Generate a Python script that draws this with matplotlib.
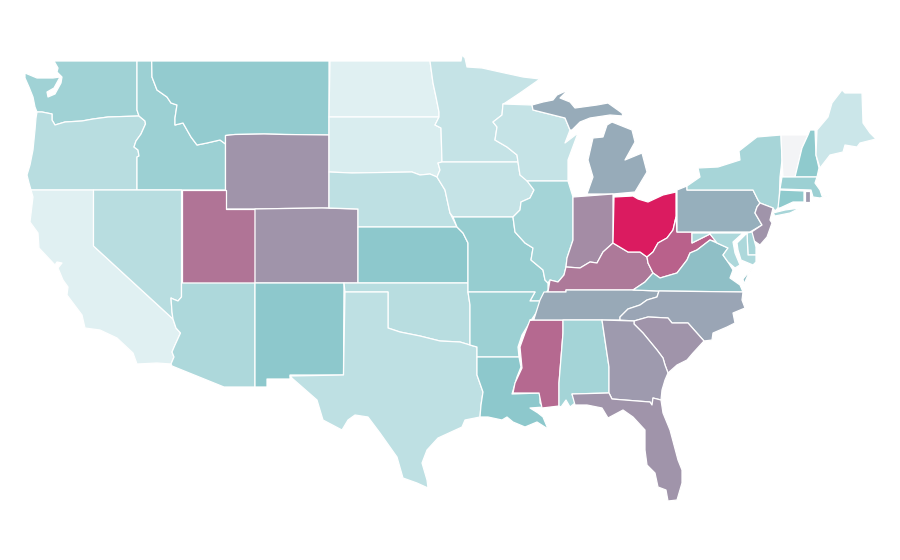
import matplotlib
matplotlib.use("Agg")
import matplotlib.pyplot as plt
from matplotlib.colors import LinearSegmentedColormap
from matplotlib.patches import Polygon

# no geo data offline, so state outlines are traced by hand in image pixels
states = ["WA", "OR", "CA", "ID", "NV", "MT", "WY", "UT", "AZ", "CO", "NM", "ND", "SD", "NE", "KS", "OK", "TX",
          "MN", "IA", "MO", "AR", "LA", "WI", "IL", "MS", "MI", "IN", "KY", "TN", "AL", "OH", "WV", "VA", "NC",
          "SC", "GA", "FL", "PA", "NY", "NJ", "DE", "MD", "VT", "NH", "ME", "MA", "CT", "RI"]
values = [0.24, 0.17, 0.05, 0.25, 0.17, 0.28, 0.55, 0.67, 0.20, 0.55, 0.30, 0.05, 0.07, 0.15, 0.30, 0.17, 0.15,
          0.13, 0.13, 0.27, 0.25, 0.30, 0.13, 0.23, 0.71, 0.44, 0.58, 0.65, 0.45, 0.23, 1.00, 0.74, 0.34, 0.47,
          0.55, 0.52, 0.55, 0.42, 0.22, 0.55, 0.22, 0.20, 0.00, 0.29, 0.11, 0.25, 0.29, 0.52]

color_stops = [0.0, 0.05, 0.3, 0.55, 1.0]
color_list = ["#f3f4f6", "#dff0f2", "#8cc8cc", "#a094aa", "#db1b60"]

outlines = {
    "WA": [[(54, 61), (137, 61), (137, 110), (139, 116), (108, 117), (93, 119), (82, 121), (65, 122), (55, 125),
            (52, 120), (52, 114), (42, 112), (37, 112), (35, 107), (33, 97), (29, 87), (25, 78), (25, 73), (37, 78),
            (53, 78), (60, 77), (54, 88), (47, 92), (48, 97), (55, 94), (61, 83), (62, 77), (57, 72), (58, 68)]],
    "OR": [[(37, 112), (42, 112), (52, 114), (52, 120), (55, 125), (65, 122), (82, 121), (93, 119), (108, 117),
            (139, 116), (145, 121), (145.5, 124), (141, 134), (136, 141), (134, 147), (138, 150), (139, 156),
            (137, 157), (137, 190), (31, 190), (29, 183), (27, 175), (30, 165), (33, 150), (35, 130), (36, 118)]],
    "CA": [[(31, 190), (93.5, 190), (93.5, 246), (173, 319), (176, 328), (180.5, 333), (175, 345), (172, 352),
            (174, 357), (171, 364), (157, 363), (137, 364), (133, 353), (117, 338), (100, 330), (85, 328), (82, 315),
            (67, 295), (68, 287), (63, 280), (58, 268), (62, 263), (57, 262), (55, 265), (39, 248), (38, 233),
            (30, 222), (33, 197)]],
    "ID": [[(137, 61), (151.7, 61), (152, 77), (157, 90), (167, 97), (171, 103), (177, 105), (175, 118), (175, 125),
            (183, 123), (191, 137), (197, 145), (207, 143), (220, 140), (225.5, 144), (225.5, 190), (137, 190),
            (137, 157), (139, 156), (138, 150), (134, 147), (136, 141), (141, 134), (145.5, 124), (145, 121),
            (139, 116), (137, 110)]],
    "NV": [[(93.5, 190), (181.5, 190), (181.5, 297), (178, 301), (173, 299), (171, 298), (172, 312), (173, 319),
            (93.5, 246)]],
    "MT": [[(151.7, 61), (329, 61), (329, 135), (285, 134.5), (264, 134), (235, 134.5), (225.5, 135.5), (225.5, 144),
            (220, 140), (207, 143), (197, 145), (191, 137), (183, 123), (175, 125), (175, 118), (177, 105), (171, 103),
            (167, 97), (157, 90), (152, 77)]],
    "WY": [[(225.5, 135.5), (235, 134.5), (264, 134), (285, 134.5), (329, 135), (329, 208), (285, 208.5),
            (255, 209), (225.5, 209)]],
    "UT": [[(181.5, 190), (225.5, 190), (225.5, 209), (255, 209), (255, 283), (181.5, 283)]],
    "AZ": [[(181.5, 283), (255, 283), (255, 387), (224, 387), (172, 366), (171, 364), (174, 357), (172, 352),
            (175, 345), (180.5, 333), (176, 328), (173, 319), (172, 312), (171, 298), (173, 299), (178, 301),
            (181.5, 297)]],
    "CO": [[(255, 209), (285, 208.5), (322, 208), (358, 209), (358, 283), (255, 283)]],
    "NM": [[(255, 283), (344, 283), (343.5, 375), (290, 375), (290, 379), (267, 379), (267, 387), (255, 387)]],
    "ND": [[(330, 61), (430, 61), (433, 83), (436, 97), (439, 112), (439, 117), (329, 117)]],
    "SD": [[(329, 117), (439, 117), (435, 125), (441, 128), (442, 162), (438, 163), (440, 170), (437, 177), (430, 174),
            (420, 175), (412, 172), (352, 173), (329, 172)]],
    "NE": [[(329, 172), (352, 173), (412, 172), (420, 175), (430, 174), (437, 177), (445, 190), (450, 213), (457, 227),
            (358, 227), (358, 209), (329, 208)]],
    "KS": [[(358, 227), (457, 227), (463, 233), (468, 243), (468, 283), (358, 283)]],
    "OK": [[(344, 283), (468, 283), (468, 292), (470, 305), (470, 345), (460, 342), (440, 341), (420, 336), (400, 332),
            (388, 328), (388, 292), (345, 292)]],
    "TX": [[(345, 292), (388, 292), (388, 328), (400, 332), (420, 336), (440, 341), (460, 342), (470, 345), (477, 347),
            (477, 375), (483, 392), (481, 405), (480, 417), (465, 420), (462, 427), (438, 438), (427, 450), (422, 463),
            (427, 480), (428, 488), (417, 483), (403, 478), (397, 457), (380, 433), (368, 417), (355, 415), (348, 420),
            (342, 430), (323, 420), (317, 400), (293, 379), (290, 376), (343.5, 375)]],
    "MN": [[(430, 61), (461, 61), (462, 55), (465, 58), (467, 67), (482, 68), (500, 72), (523, 77), (540, 79),
            (520, 93), (505, 103), (503, 104), (502, 115), (493, 122), (497, 127), (495, 140), (507, 147), (517, 155),
            (518, 162), (442, 162), (441, 128), (435, 125), (439, 117), (439, 112), (436, 97), (433, 83)]],
    "IA": [[(442, 162), (518, 162), (520, 175), (527, 180), (534, 190), (530, 198), (521, 202), (520, 210), (513, 217),
            (453, 217), (450, 213), (445, 190), (437, 177), (440, 170), (438, 163)]],
    "MO": [[(453, 217), (513, 217), (515, 232), (525, 243), (533, 248), (531, 260), (543, 270), (545, 280), (548, 283),
            (548, 290), (541, 301), (530, 301), (535, 292), (468, 292), (468, 243), (463, 233), (457, 227)]],
    "AR": [[(468, 292), (535, 292), (530, 301), (541, 301), (538, 310), (530, 322), (522, 335), (518, 347), (519, 357),
            (477, 357), (477, 347), (470, 345), (470, 305)]],
    "LA": [[(477, 357), (519, 357), (521, 367), (517, 377), (512, 394), (540, 393), (540, 403), (544, 407), (530, 408),
            (538, 413), (543, 417), (548, 429), (537, 422), (525, 427), (513, 422), (507, 417), (502, 420), (488, 417),
            (480, 417), (481, 405), (483, 392), (477, 375)]],
    "WI": [[(503, 104), (532, 105), (533, 110), (565, 118), (570, 130), (565, 143), (578, 133), (568, 160), (568, 181),
            (527, 181), (520, 175), (518, 162), (517, 155), (507, 147), (495, 140), (497, 127), (493, 122), (502, 115)]],
    "IL": [[(527, 181), (568, 181), (573, 197), (573, 240), (567, 258), (566, 267), (564, 275), (558, 282), (550, 280),
            (548, 283), (545, 280), (543, 270), (531, 260), (533, 248), (525, 243), (515, 232), (513, 217), (520, 210),
            (521, 202), (530, 198), (534, 190)]],
    "MS": [[(530, 320), (563, 320), (563, 333), (559, 383), (559, 406), (542, 408), (539, 393), (513, 393), (515, 383),
            (522, 368), (520, 347), (525, 333)]],
    "MI": [[(532, 105), (543, 102), (553, 100), (557, 95), (568, 90), (560, 98), (570, 102), (575, 108), (597, 105),
            (608, 103), (622, 113), (623, 116), (610, 115), (590, 118), (580, 122), (572, 130), (570, 130), (565, 118),
            (533, 110)],
           [(612, 122), (632, 130), (635, 142), (625, 160), (642, 153), (647, 172), (635, 192), (613, 194), (587, 194),
            (593, 177), (588, 160), (593, 138), (603, 137), (607, 125)]],
    "IN": [[(573, 197), (613, 194), (613, 243), (603, 252), (597, 263), (590, 262), (580, 268), (566, 267), (567, 258),
            (573, 240)]],
    "KY": [[(548, 292), (550, 280), (558, 282), (564, 275), (566, 267), (580, 268), (590, 262), (597, 263), (603, 252),
            (613, 243), (628, 252), (640, 252), (647, 257), (648, 263), (653, 273), (645, 282), (633, 290), (600, 290),
            (566, 290), (566, 292)]],
    "TN": [[(544, 292), (566, 292), (566, 290), (600, 290), (633, 290), (659, 291), (657, 297), (647, 300), (640, 305),
            (628, 309), (620, 317), (620, 320), (580, 320), (530, 320), (534, 319), (540, 300)]],
    "AL": [[(563, 320), (602, 320), (609, 367), (609, 393), (572, 394), (575, 403), (570, 407), (566, 400), (561, 407),
            (559, 406), (559, 383), (563, 333)]],
    "OH": [[(614, 197), (633, 196), (638, 199), (648, 202), (663, 195), (676, 192), (676, 217), (673, 230), (667, 238),
            (658, 243), (653, 252), (647, 257), (640, 252), (628, 252), (613, 243)]],
    "WV": [[(647, 257), (653, 252), (658, 243), (667, 238), (673, 230), (676, 217), (677, 232), (692, 232), (692, 243),
            (710, 234), (717, 242), (710, 240), (697, 250), (690, 253), (687, 260), (677, 273), (660, 278), (653, 273),
            (648, 263)]],
    "VA": [[(633, 290), (645, 282), (653, 273), (660, 278), (677, 273), (687, 260), (690, 253), (697, 250), (710, 240),
            (717, 243), (728, 248), (723, 255), (728, 262), (733, 270), (730, 278), (740, 285), (743, 292), (659, 291)],
           [(753, 267), (748, 275), (744, 284), (743, 279)]],
    "NC": [[(659, 291), (743, 292), (742, 300), (745, 308), (733, 313), (735, 323), (727, 327), (713, 333), (712, 340),
            (704, 341), (688, 323), (672, 323), (668, 318), (648, 317), (634, 321), (620, 320), (620, 317), (628, 309),
            (640, 305), (647, 300), (657, 297)]],
    "SC": [[(634, 321), (648, 317), (668, 318), (672, 323), (688, 323), (704, 341), (693, 353), (687, 360), (677, 365),
            (668, 373), (665, 365), (663, 358), (657, 350), (643, 333), (634, 324)]],
    "GA": [[(602, 320), (634, 321), (634, 324), (643, 333), (657, 350), (663, 358), (665, 365), (668, 373), (665, 380),
            (662, 390), (661, 400), (653, 398), (652, 405), (650, 402), (637, 401), (612, 399), (609, 393), (609, 367)]],
    "FL": [[(572, 394), (609, 393), (612, 399), (637, 401), (650, 402), (652, 405), (653, 398), (661, 400), (663, 413),
            (670, 430), (678, 460), (682, 470), (682, 483), (677, 500), (668, 501), (666, 490), (658, 487), (655, 473),
            (647, 465), (645, 450), (645, 430), (633, 417), (623, 410), (608, 418), (602, 408), (587, 405), (575, 405)]],
    "PA": [[(677, 190), (687, 186), (687, 190), (753, 190), (758, 200), (760, 203), (757, 207), (755, 213), (762, 225),
            (750, 232), (677, 232)]],
    "NY": [[(687, 186), (700, 177), (698, 168), (718, 167), (740, 160), (739, 151), (757, 137), (781, 135), (782, 160),
            (780, 177), (779, 207), (775, 211), (773, 208), (760, 203), (758, 200), (753, 190), (687, 190)],
           [(773, 213), (785, 210), (800, 208), (790, 213), (775, 216)]],
    "NJ": [[(760, 203), (773, 208), (770, 220), (772, 223), (767, 237), (760, 245), (750, 238), (750, 233), (762, 225),
            (755, 213), (757, 207)]],
    "DE": [[(747, 233), (752, 232), (756, 247), (756, 255), (748, 255)]],
    "MD": [[(692, 233), (743, 233), (733, 242), (735, 253), (740, 265), (735, 268), (728, 262), (723, 255), (728, 248),
            (717, 243), (710, 234), (692, 243)],
           [(737, 243), (742, 238), (747, 233), (748, 255), (756, 255), (756, 262), (753, 265), (741, 260), (738, 250)]],
    "VT": [[(781, 135), (808, 135), (802, 148), (795, 177), (783, 177), (782, 160)]],
    "NH": [[(808, 135), (810, 130), (815, 130), (816, 155), (819, 168), (817, 177), (795, 177), (802, 148)]],
    "ME": [[(817, 130), (828, 117), (832, 103), (842, 90), (845, 93), (862, 93), (863, 123), (870, 133), (876, 139),
            (860, 143), (857, 147), (845, 145), (843, 152), (830, 155), (820, 168), (816, 155)]],
    "MA": [[(782, 177), (817, 177), (815, 183), (820, 190), (822, 196), (830, 195), (820, 198), (813, 197), (811, 190),
            (780, 189)]],
    "CT": [[(780, 190), (804, 191), (804, 202), (793, 202), (780, 208), (778, 208)]],
    "RI": [[(805, 191), (810, 191), (810, 202), (805, 202)]],
}

cmap = LinearSegmentedColormap.from_list("rates", list(zip(color_stops, color_list)))

fig = plt.figure(figsize=(9, 5.6), dpi=100)
ax = fig.add_axes([0, 0, 1, 1])

for state, value in zip(states, values):
    for part in outlines[state]:
        ax.add_patch(Polygon(part, closed=True, facecolor=cmap(value), edgecolor="white", linewidth=0.9,
                             joinstyle="round", label=state))

ax.set_xlim(0, 900)
ax.set_ylim(560, 0)
ax.axis("off")

plt.savefig("out.png", dpi=100)
plt.close()
